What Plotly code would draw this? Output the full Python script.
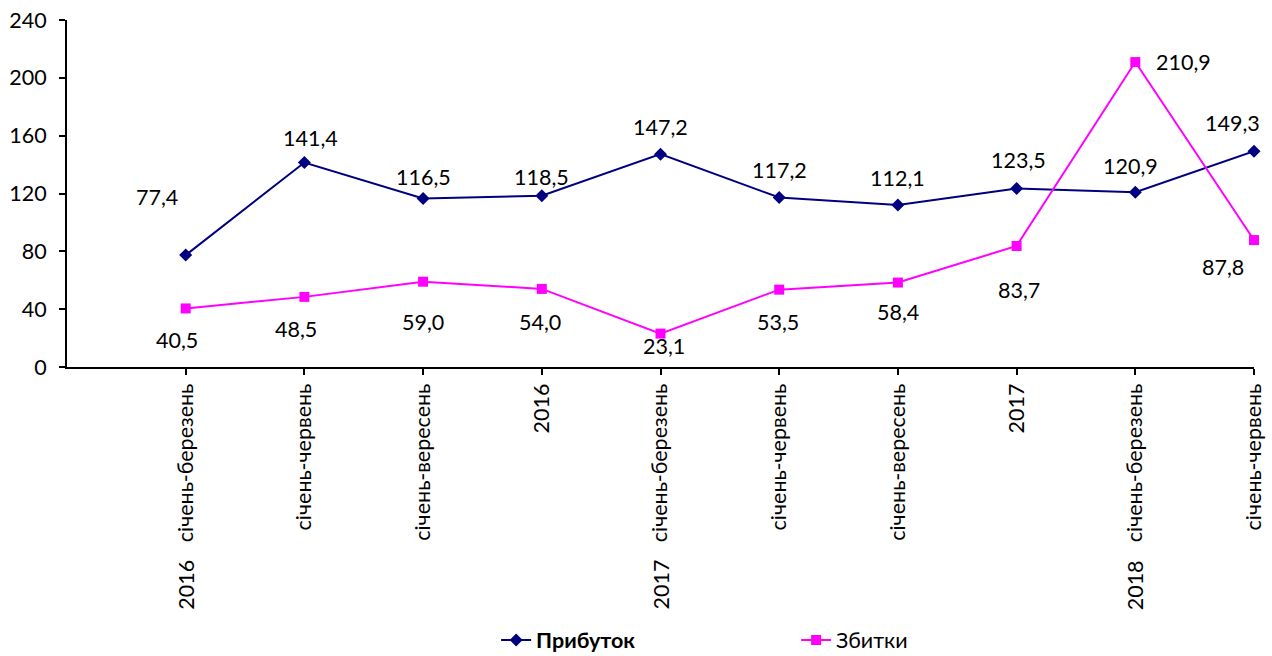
import plotly.graph_objects as go

categories = ["січень-березень", "січень-червень", "січень-вересень", "2016",
              "січень-березень", "січень-червень", "січень-вересень", "2017",
              "січень-березень", "січень-червень"]
years = ["2016", "", "", "", "2017", "", "", "", "2018", ""]
profit = [77.4, 141.4, 116.5, 118.5, 147.2, 117.2, 112.1, 123.5, 120.9, 149.3]
losses = [40.5, 48.5, 59.0, 54.0, 23.1, 53.5, 58.4, 83.7, 210.9, 87.8]
y_ticks = [0, 40, 80, 120, 160, 200, 240]

# label offsets in pixels (styling)
profit_off = [(-29, 58), (6, 25), (0, 22), (0, 19), (0, 27), (0, 28), (0, 27), (2, 28), (-5, 26), (-22, 28)]
loss_off = [(-9, -32), (-8, -32), (0, -40), (-2, -33), (3, -12), (-1, -32), (0, -29), (2, -44), (48, 0), (-31, -27)]

FONT = "Lato"
FS = 21.5
x = list(range(len(categories)))

fig = go.Figure()
fig.add_trace(go.Scatter(
    x=x, y=profit, mode="lines+markers", name="<b>Прибуток</b>",
    line=dict(color="#000080", width=2),
    marker=dict(symbol="diamond", size=10, color="#000080"),
    cliponaxis=False))
fig.add_trace(go.Scatter(
    x=x, y=losses, mode="lines+markers", name="Збитки",
    line=dict(color="#FF00FF", width=2),
    marker=dict(symbol="square", size=10, color="#FF00FF"),
    cliponaxis=False))

def fmt(v):
    return f"{v:.1f}".replace(".", ",")

anns = []
for i, v in enumerate(profit):
    dx, dy = profit_off[i]
    anns.append(dict(x=i, y=v, text=fmt(v), showarrow=False, xshift=dx, yshift=dy,
                     font=dict(family=FONT, size=FS, color="black")))
for i, v in enumerate(losses):
    dx, dy = loss_off[i]
    anns.append(dict(x=i, y=v, text=fmt(v), showarrow=False, xshift=dx, yshift=dy,
                     font=dict(family=FONT, size=FS, color="black")))
for i, yr in enumerate(years):
    if yr:
        anns.append(dict(x=i, y=0, xref="x", yref="paper", text=yr, showarrow=False,
                         textangle=-90, yanchor="top", xanchor="center", yshift=-191,
                         font=dict(family=FONT, size=FS, color="black")))

fig.update_layout(
    width=1272, height=656,
    margin=dict(l=67, r=18, t=20, b=289, autoexpand=False),
    paper_bgcolor="white", plot_bgcolor="white",
    font=dict(family=FONT, size=FS, color="black"),
    annotations=anns,
    showlegend=True,
    legend=dict(orientation="h", x=0.3615, xanchor="left", y=-0.728, yanchor="top",
                entrywidth=255, entrywidthmode="pixels",
                font=dict(family=FONT, size=FS, color="black")),
    xaxis=dict(range=[-1, 9], tickmode="array", tickvals=x, ticktext=categories,
               tickangle=-90, ticks="outside", ticklen=6, tickwidth=2, tickcolor="black",
               showline=True, linecolor="black", linewidth=2, showgrid=False, zeroline=False,
               automargin=False,
               tickfont=dict(family=FONT, size=FS, color="black")),
    yaxis=dict(range=[0, 240], tickmode="array", tickvals=y_ticks,
               ticks="outside", ticklen=6, tickwidth=2, tickcolor="black",
               showline=True, linecolor="black", linewidth=2, showgrid=False, zeroline=False,
               automargin=False, ticklabelstandoff=8, ticklabeloverflow="allow",
               tickfont=dict(family=FONT, size=FS, color="black")),
)

fig.write_html("out.html", config={"displayModeBar": False},
               post_script="document.body.style.margin='0';document.body.style.overflow='hidden';")
